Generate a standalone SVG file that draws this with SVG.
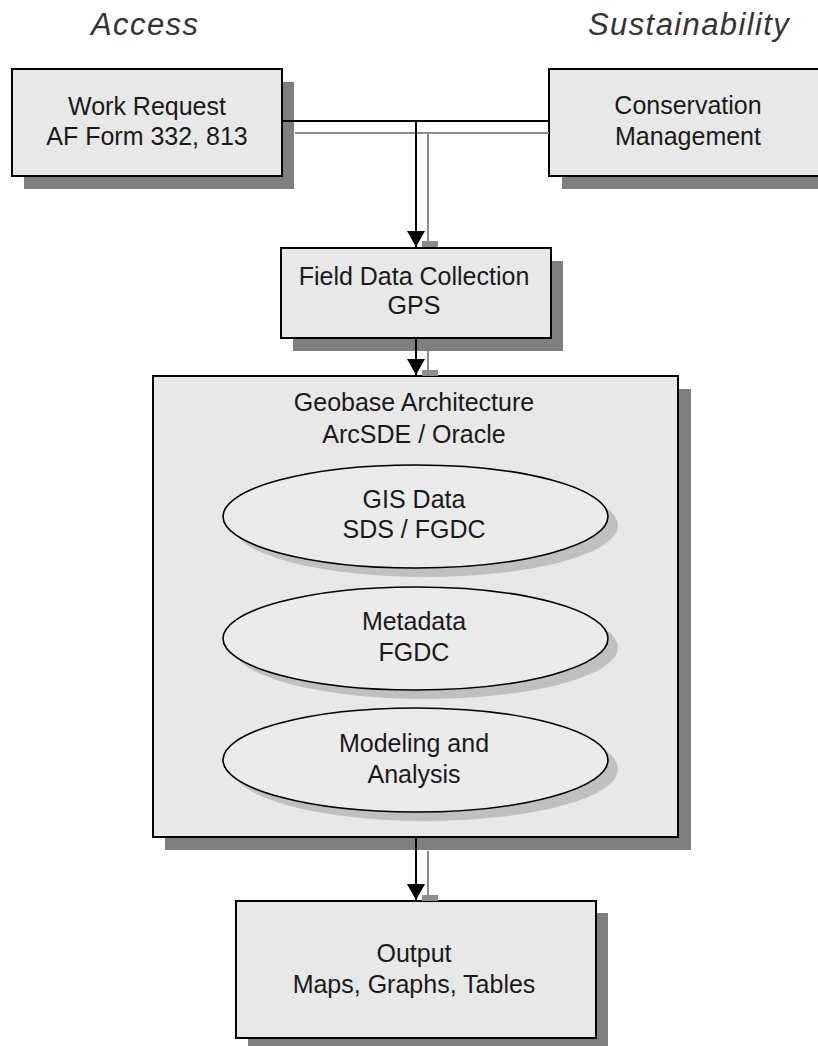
<svg xmlns="http://www.w3.org/2000/svg" width="818" height="1046" viewBox="0 0 818 1046">
<defs>
<style>
.box{fill:#e8e8e8;stroke:#000;stroke-width:2}
.shadow{fill:#7f7f7f}
.eshadow{fill:#c0c0c0}
.ell{fill:#ebebeb;stroke:#000;stroke-width:1.6}
.t{font-family:"Liberation Sans",Arial,sans-serif;font-size:25px;fill:#1a1a1a;text-anchor:middle}
.h{font-family:"Liberation Sans",Arial,sans-serif;font-size:31px;font-style:italic;fill:#333;letter-spacing:1.4px}
.line{stroke:#000;stroke-width:2;fill:none}
.sline{stroke:#8c8c8c;stroke-width:2;fill:none}
.stip{fill:#8c8c8c}
</style>
<marker id="arr" markerUnits="userSpaceOnUse" markerWidth="18" markerHeight="18" viewBox="0 0 16 18" refX="16" refY="9" orient="auto">
<path d="M0,0 L16,9 L0,18 Z" fill="#000"/>
</marker>
</defs>
<rect width="818" height="1046" fill="#fff"/>

<g id="label-access"><text class="h" x="91" y="35">Access</text></g>
<g id="label-sustainability"><text class="h" x="588" y="35">Sustainability</text></g>

<g id="work-request">
<rect class="shadow" x="24" y="82" width="270" height="107"/>
<rect class="box" x="12" y="69" width="270" height="107"/>
<text class="t" x="147" y="115">Work Request</text>
<text class="t" x="147" y="145">AF Form 332, 813</text>
</g>

<g id="conservation-management">
<rect class="shadow" x="562" y="82" width="290" height="107"/>
<rect class="box" x="549" y="69" width="290" height="107"/>
<text class="t" x="688" y="114">Conservation</text>
<text class="t" x="688" y="145">Management</text>
</g>

<g id="field-data-collection">
<rect class="shadow" x="293" y="261" width="270" height="90"/>
<rect class="box" x="281" y="248" width="270" height="90"/>
<text class="t" x="414" y="285">Field Data Collection</text>
<text class="t" x="414" y="314">GPS</text>
</g>

<g id="geobase-architecture">
<rect class="shadow" x="165" y="389" width="526" height="461"/>
<rect class="box" x="153" y="376" width="525" height="461"/>
<text class="t" x="414" y="411">Geobase Architecture</text>
<text class="t" x="414" y="443">ArcSDE / Oracle</text>
</g>

<g id="gis-data">
<ellipse class="eshadow" cx="425.5" cy="525.5" rx="192.5" ry="51.5"/>
<ellipse class="ell" cx="415.5" cy="516.5" rx="192.5" ry="51.5"/>
<text class="t" x="414" y="508">GIS Data</text>
<text class="t" x="414" y="538">SDS / FGDC</text>
</g>

<g id="metadata">
<ellipse class="eshadow" cx="425.5" cy="647.5" rx="192.5" ry="51.5"/>
<ellipse class="ell" cx="415.5" cy="638.5" rx="192.5" ry="51.5"/>
<text class="t" x="414" y="630">Metadata</text>
<text class="t" x="414" y="661">FGDC</text>
</g>

<g id="modeling-analysis">
<ellipse class="eshadow" cx="425.5" cy="769" rx="192.5" ry="52"/>
<ellipse class="ell" cx="415.5" cy="760" rx="192.5" ry="52"/>
<text class="t" x="414" y="752">Modeling and</text>
<text class="t" x="414" y="783">Analysis</text>
</g>

<g id="output">
<rect class="shadow" x="248" y="913" width="360" height="140"/>
<rect class="box" x="236" y="901" width="360" height="137"/>
<text class="t" x="414" y="962">Output</text>
<text class="t" x="414" y="993">Maps, Graphs, Tables</text>
</g>

<g id="connectors">
<path class="sline" d="M295,133 H549 M428,133 V241"/>
<rect class="stip" x="422" y="241" width="16" height="6"/>
<path class="line" d="M282,121 H549 M416,121 V247" marker-end="url(#arr)"/>

<path class="sline" d="M428,351 V370"/>
<rect class="stip" x="422" y="370" width="16" height="6"/>
<path class="line" d="M416,338 V375" marker-end="url(#arr)"/>

<path class="sline" d="M428,851 V895"/>
<rect class="stip" x="422" y="895" width="16" height="6"/>
<path class="line" d="M416,838 V900" marker-end="url(#arr)"/>
</g>
</svg>
